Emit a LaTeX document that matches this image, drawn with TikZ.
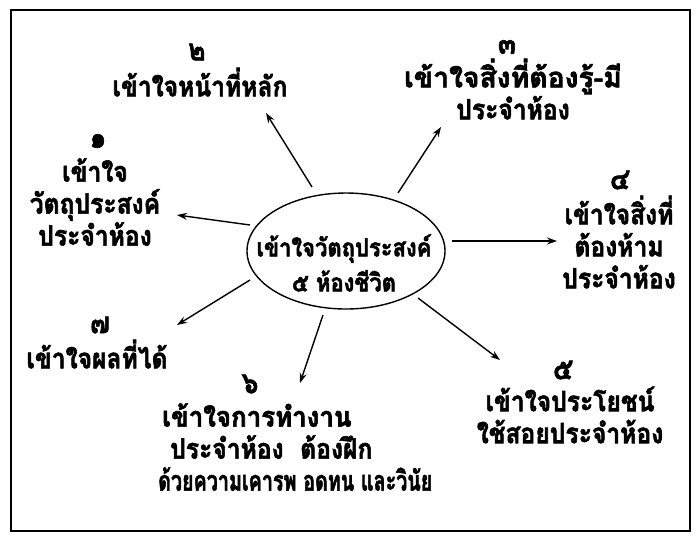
\documentclass[tikz,border=0pt]{standalone}
\usepackage{fontspec}
\newfontfamily\thaifont[Script=Thai,FakeBold=2,FakeStretch=0.88]{Loma}
\usetikzlibrary{shapes.geometric,arrows.meta}
\setlength\lineskiplimit{-100pt}
\setlength\lineskip{0pt}
\tikzset{
  lbl/.style={font=\thaifont\bfseries\fontsize{28}{32}\selectfont, align=center, inner sep=0pt},
  hubtext/.style={font=\thaifont\bfseries\fontsize{25}{35}\selectfont, align=center, inner sep=0pt},
  num/.style={font=\thaifont\bfseries\fontsize{30}{30}\selectfont, inner sep=0pt},
  arr/.style={line width=1.4pt, -{Stealth[length=10pt,width=7pt]}},
  hub/.style={ellipse, draw, line width=1.4pt, minimum width=198pt, minimum height=116pt, inner sep=0pt}
}
\begin{document}
\begin{tikzpicture}[x=1pt,y=-1pt]
\useasboundingbox (0,0) rectangle (700,539);
\draw[line width=1.8pt] (11,10) rectangle (690,531);
% hub
\node[hub] (c) at (346,251) {};
\node[hubtext] (ct) at (344,263) {เข้าใจวัตถุประสงค์\\๕ ห้องชีวิต};
% labels
\node[num] (n2) at (197,52) {๒};
\node[lbl] (t2) at (200,82) {เข้าใจหน้าที่หลัก};
\node[num] (n3) at (507,47) {๓};
\node[lbl] (t3) at (513,89) {\scalebox{1.15}[1]{เข้าใจสิ่งที่ต้องรู้-มี}\\ประจำห้อง};
\node[num] (n1) at (98,141) {๑};
\node[lbl] (t1) at (95,202) {เข้าใจ\\วัตถุประสงค์\\ประจำห้อง};
\node[num] (n4) at (620,180) {๔};
\node[lbl] (t4) at (619,242) {เข้าใจสิ่งที่\\ต้องห้าม\\ประจำห้อง};
\node[num] (n7) at (100,325) {๗};
\node[lbl] (t7) at (97,354) {เข้าใจผลที่ได้};
\node[num] (n6) at (250,384) {๖};
\node[lbl, align=left, anchor=west] (t6) at (158,447) {\hspace*{4pt}\scalebox{1.05}[1]{เข้าใจการทำงาน}\\\hspace*{12pt}ประจำห้อง\ \ ต้องฝึก\\\scalebox{0.8}[1]{ด้วยความเคารพ อดทน และวินัย}};
\node[num] (n5) at (563,370) {๕};
\node[lbl] (t5) at (570,415) {เข้าใจประโยชน์\\ใช้สอยประจำห้อง};
% arrow ends
\coordinate (s2) at (312,187); \coordinate (e2) at (266,113);
\coordinate (s3) at (398,193); \coordinate (e3) at (441,127);
\coordinate (s1) at (250,225); \coordinate (e1) at (177,215);
\coordinate (s4) at (452,241); \coordinate (e4) at (557,241);
\coordinate (s7) at (250,280); \coordinate (e7) at (177,325);
\coordinate (s6) at (323,315); \coordinate (e6) at (300,383);
\coordinate (s5) at (418,298); \coordinate (e5) at (500,360);
\foreach \i in {1,...,7} { \draw[arr] (s\i) -- (e\i); }
\end{tikzpicture}
\end{document}
